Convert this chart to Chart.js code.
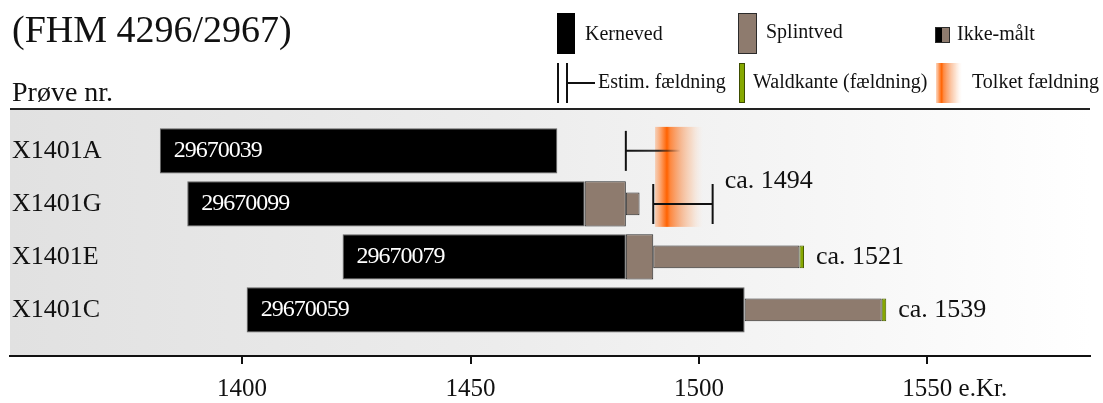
<!DOCTYPE html>
<html>
<head>
<meta charset="utf-8">
<script src="https://cdn.jsdelivr.net/npm/chart.js@4.4.1/dist/chart.umd.min.js"></script>
<style>
  html, body { margin: 0; padding: 0; background: #fff; }
  canvas { display: block; }
</style>
</head>
<body>
<canvas id="fhmChart" width="1103" height="403"></canvas>
<script>
const FONT = "'Liberation Serif', 'Times New Roman', serif";
const BROWN = '#8e7b6e';
const GREEN = '#86a800';
const INK = '#111';

// data (years e.Kr.)
const samples = ['X1401A', 'X1401G', 'X1401E', 'X1401C'];
const sampleIds = ['29670039', '29670099', '29670079', '29670059'];
const heartStart = [1382, 1388, 1422, 1401];
const heartEnd = [1469, 1475, 1484, 1510];
const sapEnd = [null, 1484, 1490, null];
const unmeasuredEnd = [null, 1487, 1522, 1540];
const waldkanteEnd = [null, null, 1523, 1541];
const estimStart = [1484, 1490, null, null];
const estimEnd = [1496, 1503, null, null];
const estimOpen = [true, false, false, false];
const tolketFelling = [1490.4, 1493, 1501]; // from, peak, to
const tolketRows = [0, 1];
const fellingText = ['ca. 1494', 'ca. 1521', 'ca. 1539'];
const fellingYear = [1503, 1523, 1541];
const fellingRow = [0.57, 2, 3];
const xTicks = [1400, 1450, 1500, 1550];
const xMin = 1349.2, xMax = 1585.6;

const unmeasuredStart = sapEnd.map((v, i) => v ?? heartEnd[i]);

function segments(from, to) {
  const out = [];
  from.forEach((s, i) => {
    if (s != null && to[i] != null) out.push({ y: i, x: [s, to[i]] });
  });
  return out;
}

const barDefaults = { grouped: false, categoryPercentage: 1, borderSkipped: false, borderWidth: 1 };

const backgroundPlugin = {
  id: 'plotBackground',
  beforeDraw(chart) {
    const { ctx, chartArea: a } = chart;
    const g = ctx.createLinearGradient(a.left, 0, a.right, 0);
    g.addColorStop(0, '#e1e1e1');
    g.addColorStop(0.45, '#ececec');
    g.addColorStop(0.75, '#f6f6f6');
    g.addColorStop(1, '#ffffff');
    ctx.save();
    ctx.fillStyle = g;
    ctx.fillRect(a.left, a.top, a.right - a.left, a.bottom - a.top);
    ctx.strokeStyle = '#222';
    ctx.lineWidth = 2;
    ctx.beginPath();
    ctx.moveTo(a.left, a.top);
    ctx.lineTo(a.right, a.top);
    ctx.stroke();
    ctx.restore();
  }
};

function tolketGradient(ctx, x0, x1, peak) {
  const g = ctx.createLinearGradient(x0, 0, x1, 0);
  g.addColorStop(0, 'rgba(250,170,120,0.5)');
  g.addColorStop(Math.max(0, peak - 0.08), 'rgba(255,125,45,0.9)');
  g.addColorStop(peak, '#ff6200');
  g.addColorStop(Math.min(1, peak + 0.07), 'rgba(255,125,45,0.9)');
  g.addColorStop(0.5, 'rgba(248,150,90,0.7)');
  g.addColorStop(0.75, 'rgba(250,190,150,0.45)');
  g.addColorStop(1, 'rgba(255,230,215,0)');
  return g;
}

const overlayPlugin = {
  id: 'overlay',
  afterDatasetsDraw(chart) {
    const { ctx } = chart;
    const xs = chart.scales.x, ys = chart.scales.y;
    ctx.save();

    // tolket fældning band
    const bx0 = xs.getPixelForValue(tolketFelling[0]);
    const bx1 = xs.getPixelForValue(tolketFelling[2]);
    const peak = (tolketFelling[1] - tolketFelling[0]) / (tolketFelling[2] - tolketFelling[0]);
    const by0 = ys.getPixelForValue(tolketRows[0]) - 24;
    const by1 = ys.getPixelForValue(tolketRows[1]) + 23;
    ctx.fillStyle = tolketGradient(ctx, bx0, bx1, peak);
    ctx.fillRect(bx0, by0, bx1 - bx0, by1 - by0);

    // estimated felling ranges
    ctx.lineWidth = 2;
    estimStart.forEach((s, i) => {
      if (s == null) return;
      const y = ys.getPixelForValue(i);
      const x0 = xs.getPixelForValue(s);
      const x1 = xs.getPixelForValue(estimEnd[i]);
      ctx.strokeStyle = INK;
      ctx.beginPath();
      ctx.moveTo(x0, y - 20); ctx.lineTo(x0, y + 20);
      if (!estimOpen[i]) { ctx.moveTo(x1, y - 20); ctx.lineTo(x1, y + 20); }
      ctx.stroke();
      if (estimOpen[i]) {
        const g = ctx.createLinearGradient(x0, 0, x1, 0);
        g.addColorStop(0, INK);
        g.addColorStop(0.6, 'rgba(17,17,17,0.85)');
        g.addColorStop(1, 'rgba(17,17,17,0)');
        ctx.strokeStyle = g;
      }
      ctx.beginPath();
      ctx.moveTo(x0, y); ctx.lineTo(x1, y);
      ctx.stroke();
    });

    // sample ids inside heartwood bars
    const heart = chart.getDatasetMeta(0);
    ctx.fillStyle = '#fff';
    ctx.font = '24px ' + FONT;
    ctx.letterSpacing = '-1px';
    ctx.textBaseline = 'middle';
    ctx.textAlign = 'left';
    heart.data.forEach((bar, k) => {
      const i = heart._parsed[k].y;
      ctx.fillText(sampleIds[i], Math.min(bar.base, bar.x) + 14, bar.y);
    });
    ctx.letterSpacing = '0px';

    // felling labels
    ctx.fillStyle = INK;
    ctx.font = '26px ' + FONT;
    fellingText.forEach((t, k) => {
      ctx.fillText(t, xs.getPixelForValue(fellingYear[k]) + 12, ys.getPixelForValue(fellingRow[k]));
    });
    ctx.restore();
  },
  afterDraw(chart) {
    const { ctx } = chart;
    ctx.save();
    ctx.fillStyle = INK;
    ctx.textAlign = 'left';

    ctx.textBaseline = 'alphabetic';
    ctx.font = '38px ' + FONT;
    ctx.fillText('(FHM 4296/2967)', 12, 42);
    ctx.font = '28px ' + FONT;
    ctx.fillText('Prøve nr.', 12, 101);

    // e.Kr. after last tick label
    const xs = chart.scales.x;
    const item = xs.getLabelItems().find(it => it.label === '1550');
    if (item) {
      ctx.font = item.font.string;
      ctx.textBaseline = item.options.textBaseline;
      const w = ctx.measureText('1550').width;
      const [tx, ty] = item.options.translation;
      ctx.fillText(' e.Kr.', tx + w / 2, ty + item.textOffset);
    }

    // legend
    ctx.textBaseline = 'middle';
    ctx.font = '20px ' + FONT;
    ctx.fillStyle = '#000';
    ctx.fillRect(557, 13, 18, 41);
    ctx.fillStyle = BROWN; ctx.strokeStyle = '#2b2b2b'; ctx.lineWidth = 1;
    ctx.fillRect(738, 13, 19, 41); ctx.strokeRect(738.5, 13.5, 18, 40);
    ctx.fillStyle = '#000';
    ctx.fillRect(935, 27, 7, 16);
    ctx.fillStyle = BROWN;
    ctx.fillRect(942, 27, 8, 16); ctx.strokeRect(935.5, 27.5, 14, 15);
    ctx.fillStyle = INK;
    ctx.fillText('Kerneved', 585, 35);
    ctx.fillText('Splintved', 766, 33);
    ctx.fillText('Ikke-målt', 957, 35);

    ctx.strokeStyle = INK; ctx.lineWidth = 2;
    ctx.beginPath();
    ctx.moveTo(558, 63); ctx.lineTo(558, 103);
    ctx.moveTo(567, 63); ctx.lineTo(567, 103);
    ctx.moveTo(567, 83); ctx.lineTo(595, 83);
    ctx.stroke();
    ctx.fillText('Estim. fældning', 598, 83);

    ctx.fillStyle = GREEN; ctx.strokeStyle = '#3d4d00'; ctx.lineWidth = 1;
    ctx.fillRect(739, 63, 6, 40); ctx.strokeRect(739.5, 63.5, 5, 39);
    ctx.fillStyle = INK;
    ctx.fillText('Waldkante (fældning)', 753, 83);

    ctx.fillStyle = tolketGradient(ctx, 936, 962, 0.22);
    ctx.fillRect(936, 63, 26, 40);
    ctx.fillStyle = INK;
    ctx.fillText('Tolket fældning', 972, 83);
    ctx.restore();
  }
};

new Chart(document.getElementById('fhmChart').getContext('2d'), {
  type: 'bar',
  data: {
    datasets: [
      { ...barDefaults, label: 'Kerneved', data: segments(heartStart, heartEnd), backgroundColor: '#000', borderColor: '#666', barPercentage: 0.85 },
      { ...barDefaults, label: 'Splintved', data: segments(heartEnd, sapEnd), backgroundColor: BROWN, borderColor: '#2b2b2b', barPercentage: 0.85 },
      { ...barDefaults, label: 'Ikke-målt', data: segments(unmeasuredStart, unmeasuredEnd), backgroundColor: BROWN, borderColor: '#2b2b2b', barPercentage: 0.43 },
      { ...barDefaults, label: 'Waldkante', data: segments(unmeasuredEnd, waldkanteEnd), backgroundColor: GREEN, borderColor: '#4a5e00', barPercentage: 0.43 }
    ]
  },
  options: {
    indexAxis: 'y',
    responsive: false,
    animation: false,
    layout: { padding: { left: 10, right: 13, top: 109, bottom: 0 } },
    plugins: { legend: { display: false }, tooltip: { enabled: false } },
    scales: {
      x: {
        type: 'linear',
        min: xMin,
        max: xMax,
        bounds: 'data',
        afterBuildTicks: s => { s.ticks = xTicks.map(v => ({ value: v })); },
        afterFit: s => { s.paddingLeft = 0; s.paddingRight = 0; s.height = 47; },
        ticks: { callback: v => String(v), color: INK, padding: 13, font: { family: FONT, size: 25, lineHeight: 1 } },
        grid: { drawOnChartArea: false, tickLength: 8, color: INK, lineWidth: 2 },
        border: { color: INK, width: 2 }
      },
      y: {
        type: 'linear',
        reverse: true,
        offset: false,
        bounds: 'data',
        min: -0.79,
        max: 3.87,
        afterBuildTicks: s => { s.ticks = samples.map((_, i) => ({ value: i })); },
        afterFit: s => { s.width = 0; s.paddingTop = 0; s.paddingBottom = 0; },
        ticks: { mirror: true, padding: 2, color: INK, callback: v => samples[v], font: { family: FONT, size: 26 } },
        grid: { display: false, drawTicks: false },
        border: { display: false }
      }
    }
  },
  plugins: [backgroundPlugin, overlayPlugin]
});
</script>
</body>
</html>
